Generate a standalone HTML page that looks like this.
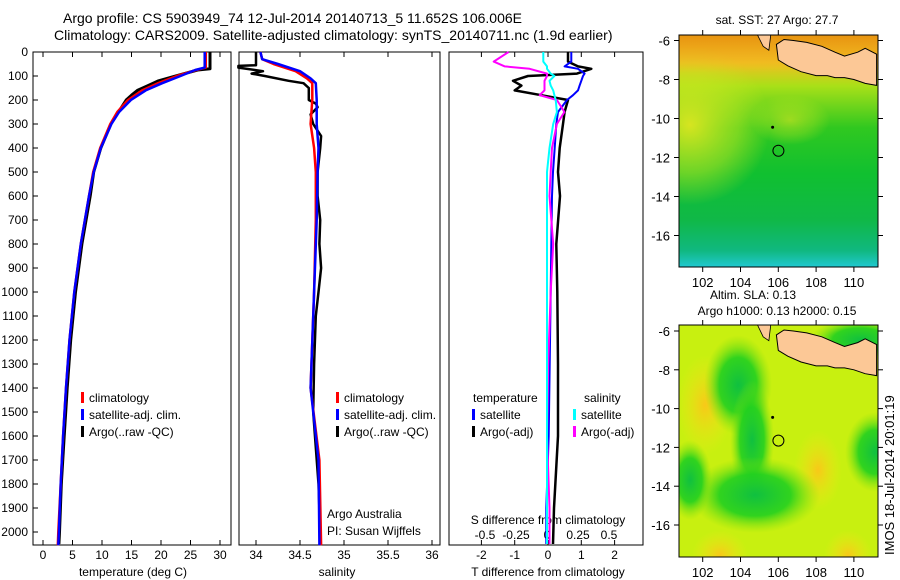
<!DOCTYPE html>
<html><head><meta charset="utf-8">
<style>
html,body{margin:0;padding:0;background:#fff;}
svg{display:block;font-family:"Liberation Sans",sans-serif;}
text{font-size:12px;fill:#000;}
</style></head>
<body>
<svg id="fig" width="900" height="580" viewBox="0 0 900 580" xmlns="http://www.w3.org/2000/svg">
<defs>
 <linearGradient id="sstg" x1="0" y1="0" x2="0" y2="1">
  <stop offset="0" stop-color="#e8a010"/>
  <stop offset="0.12" stop-color="#f0c020"/>
  <stop offset="0.22" stop-color="#a8e018"/>
  <stop offset="0.4" stop-color="#30c820"/>
  <stop offset="0.6" stop-color="#10c030"/>
  <stop offset="0.8" stop-color="#10b848"/>
  <stop offset="0.93" stop-color="#10b880"/>
  <stop offset="1" stop-color="#20c8d0"/>
 </linearGradient>
 <linearGradient id="topo" x1="0" y1="0" x2="0" y2="1">
  <stop offset="0" stop-color="#e89010" stop-opacity="0.8"/>
  <stop offset="0.6" stop-color="#f0b020" stop-opacity="0.6"/>
  <stop offset="1" stop-color="#f0c020" stop-opacity="0"/>
 </linearGradient>
 <radialGradient id="yl"><stop offset="0" stop-color="#e8e820" stop-opacity="0.9"/><stop offset="0.6" stop-color="#c8e820" stop-opacity="0.5"/><stop offset="1" stop-color="#c8e820" stop-opacity="0"/></radialGradient>
 <radialGradient id="g1"><stop offset="0" stop-color="#10c040"/><stop offset="0.55" stop-color="#20d020" stop-opacity="0.9"/><stop offset="1" stop-color="#80e010" stop-opacity="0"/></radialGradient>
 <radialGradient id="o1"><stop offset="0" stop-color="#f8c818"/><stop offset="1" stop-color="#f0e818" stop-opacity="0"/></radialGradient>
 <clipPath id="c1"><rect x="679" y="35" width="199" height="232"/></clipPath>
 <clipPath id="c2"><rect x="679" y="325" width="199" height="232"/></clipPath>
</defs>
<text x="63" y="23" style="font-size:14px">Argo profile: CS 5903949_74 12-Jul-2014 20140713_5 11.652S 106.006E</text>
<text x="54" y="40" style="font-size:14px">Climatology: CARS2009. Satellite-adjusted climatology: synTS_20140711.nc (1.9d earlier)</text>
<g id="panels"></g>
<g id="maps"></g>
<text transform="translate(894,555) rotate(-90)" style="font-size:13px">IMOS 18-Jul-2014 20:01:19</text>
</svg>
<script>
// ---------- data ----------
const depthTicks = [0,100,200,300,400,500,600,700,800,900,1000,1100,1200,1300,1400,1500,1600,1700,1800,1900,2000];
const tempTicks = [0,5,10,15,20,25,30];
const salTicks = [34,34.5,35,35.5,36];
const salTickLabels = ["34","34.5","35","35.5","36"];
const tdTicks = [-2,-1,0,1,2];
const sdTicks = [-0.5,-0.25,0,0.25,0.5];
const sdTickLabels = ["-0.5","-0.25","0","0.25","0.5"];

const climDepth = [0,65,75,100,130,160,200,250,300,400,500,600,800,1000,1200,1400,1600,1800,2000,2055];
const climTemp  = [27.6,27.6,26.0,22.7,19.5,16.8,14.4,12.6,11.4,9.7,8.5,7.8,6.4,5.3,4.5,3.9,3.4,3.0,2.6,2.5];
const satTemp   = [27.4,27.4,25.8,23.3,20.2,17.4,14.9,12.9,11.6,9.8,8.6,7.8,6.4,5.3,4.5,3.9,3.4,3.0,2.7,2.6];
const argoDepth = [0,70,75,100,120,140,160,180,200,250,300,400,500,600,800,1000,1200,1400,1600,1800,2000,2050];
const argoTemp  = [28.3,28.3,26.2,22.5,19.6,17.8,16.0,15.0,14.1,12.8,11.5,9.8,8.6,8.0,6.6,5.5,4.7,4.1,3.6,3.1,2.8,2.7];

const salDepth = [0,30,50,80,110,130,200,300,400,500,700,1000,1400,1700,2055];
const climSal  = [34.05,34.07,34.2,34.45,34.58,34.64,34.64,34.62,34.66,34.68,34.68,34.66,34.62,34.72,34.74];
const satSal   = [34.05,34.07,34.25,34.5,34.62,34.68,34.69,34.69,34.71,34.70,34.69,34.66,34.62,34.71,34.72];
const argoSalDepth = [0,55,58,65,80,90,100,120,130,150,200,215,230,260,300,350,400,500,600,700,800,900,1000,1100,1300,1500,1800,2000,2050];
const argoSal  = [34.0,34.0,33.8,33.8,34.08,33.95,34.1,34.37,34.54,34.6,34.6,34.68,34.7,34.62,34.65,34.74,34.73,34.7,34.7,34.73,34.72,34.74,34.71,34.68,34.66,34.65,34.71,34.73,34.73];

const dDepth = [0,40,60,70,90,100,120,140,160,180,200,250,300,400,500,600,800,1000,1300,1600,1900,2050];
const satTdiff  = [0.7,0.7,0.5,0.9,1.1,1.05,1.0,0.95,0.9,0.75,0.57,0.3,0.25,0.2,0.15,0.12,0.1,0.08,0.05,0.02,-0.05,-0.05];
const argoTdiff = [0.6,0.6,0.9,1.3,0.87,-0.6,-1.05,-0.8,-1.0,-0.2,0.6,0.5,0.45,0.35,0.3,0.36,0.25,0.28,0.3,0.3,0.18,0.15];
const satSdiff  = [-0.03,-0.03,0.0,0.0,0.03,0.06,0.02,0.03,0.05,0.06,0.07,0.08,0.05,0.02,0.0,0.0,0.0,0.0,0.0,0.0,0.0,0.0];
const argoSdiff = [-0.31,-0.43,-0.34,-0.14,0.0,0.0,-0.02,-0.02,-0.02,-0.06,0.08,0.14,0.08,0.04,0.03,0.02,0.05,0.03,0.01,0.0,0.02,0.02];

const mapXTicks = [102,104,106,108,110];
const mapYTicks = [-6,-8,-10,-12,-14,-16];
const floatLon = [106.006], floatLat = [-11.652];
const javaLon = [105.9,106.0,106.5,107.2,108.0,108.6,109.0,109.5,110.0,110.6,111.2,111.2,110.6,110.2,109.5,109.0,108.3,107.5,106.8,106.3];
const javaLat = [-6.2,-7.0,-7.3,-7.6,-7.8,-7.8,-7.9,-7.9,-8.0,-8.2,-8.3,-6.7,-6.4,-6.6,-6.8,-6.6,-6.3,-6.1,-6.0,-5.95];

// ---------- helpers ----------
const NS = "http://www.w3.org/2000/svg";
function mk(tag, attrs, parent){const e=document.createElementNS(NS,tag);for(const k in attrs)e.setAttribute(k,attrs[k]);parent.appendChild(e);return e;}
const yTop=52, yPer=0.24, yBot=545;
const yD = d => yTop + d*yPer;
const panelsG = document.getElementById('panels');

function stepPath(xs, depths, xf){
  let s="";
  for(let i=0;i<depths.length;i++){
    const x=xf(xs[i]).toFixed(1), y=yD(depths[i]).toFixed(1);
    s += (i? "L":"M")+x+","+y;
  }
  return s;
}
function panelFrame(name,x0,x1){
  const r = mk('rect',{x:x0,y:yTop,width:x1-x0,height:yBot-yTop,fill:'none',stroke:'#000','stroke-width':1},panelsG);
  
  
}
function xTicks(name, ticks, labels, xf, ly){
  const g=mk('g',{},panelsG);
  
  
  ticks.forEach((t,i)=>{
    const x=xf(t);
    mk('line',{x1:x,x2:x,y1:yBot,y2:yBot-5,stroke:'#000'},g);
    mk('line',{x1:x,x2:x,y1:yTop,y2:yTop+5,stroke:'#000'},g);
    const tx=mk('text',{x:x,y:ly,'text-anchor':'middle'},g); tx.textContent=labels[i];
  });
}
function series(name, xs, depths, xf, color, w){
  const p = mk('path',{d:stepPath(xs,depths,xf),fill:'none',stroke:color,'stroke-width':w,'stroke-linejoin':'round'},panelsG);
  
  
}
function legend(name, x, y, items){
  const g=mk('g',{},panelsG);
  
  
  items.forEach((it,i)=>{
    const yy=y+i*17;
    if(it[1]) mk('rect',{x:x,y:yy-10,width:3,height:11,fill:it[1]},g);
    const t=mk('text',{x:x+(it[1]?8:0),y:yy},g); t.textContent=it[0];
  });
}

// ---------- panel 1: temperature ----------
const xT = v => 43 + v*5.9;
panelFrame('temperature-panel',33,231);
const yax=mk('g',{},panelsG);


depthTicks.forEach(d=>{
  const y=yD(d);
  mk('line',{x1:33,x2:38,y1:y,y2:y,stroke:'#000'},yax);
  const t=mk('text',{x:28,y:y+4,'text-anchor':'end'},yax); t.textContent=d;
});
xTicks('temperature-x-axis', tempTicks, tempTicks.map(String), xT, 559);
const tl=mk('text',{x:133,y:576,'text-anchor':'middle'},panelsG); tl.textContent='temperature (deg C)';
 
series('argo-temperature-line', argoTemp, argoDepth, xT, '#000', 3);
series('climatology-temperature-line', climTemp, climDepth, xT, '#f00', 2.5);
series('satellite-temperature-line', satTemp, climDepth, xT, '#00f', 2.5);
legend('temperature-legend', 81, 402, [['climatology','#f00'],['satellite-adj. clim.','#00f'],['Argo(..raw -QC)','#000']]);

// ---------- panel 2: salinity ----------
const xS = v => 256 + (v-34)*88;
panelFrame('salinity-panel',239,440);
xTicks('salinity-x-axis', salTicks, salTickLabels, xS, 559);
const sl=mk('text',{x:337,y:576,'text-anchor':'middle'},panelsG); sl.textContent='salinity';
 
series('argo-salinity-line', argoSal, argoSalDepth, xS, '#000', 2.5);
series('climatology-salinity-line', climSal, salDepth, xS, '#f00', 2.5);
series('satellite-salinity-line', satSal, salDepth, xS, '#00f', 2.5);
legend('salinity-legend', 336, 402, [['climatology','#f00'],['satellite-adj. clim.','#00f'],['Argo(..raw -QC)','#000']]);
legend('argo-credit', 327, 518, [['Argo Australia',null],['PI: Susan Wijffels',null]]);

// ---------- panel 3: differences ----------
const xTd = v => 548 + v*33.3;
const xSd = v => 547 + v*124;
panelFrame('difference-panel',449,643);
xTicks('t-difference-x-axis', tdTicks, tdTicks.map(String), xTd, 559);
const dl=mk('text',{x:548,y:576,'text-anchor':'middle'},panelsG); dl.textContent='T difference from climatology';
 
const sdl=mk('text',{x:548,y:524,'text-anchor':'middle'},panelsG); sdl.textContent='S difference from climatology';
 
const sdg=mk('g',{},panelsG);
 
sdTicks.forEach((t,i)=>{const tx=mk('text',{x:xSd(t),y:539,'text-anchor':'middle'},sdg); tx.textContent=sdTickLabels[i];});
series('argo-t-difference-line', argoTdiff, dDepth, xTd, '#000', 2.5);
series('satellite-t-difference-line', satTdiff, dDepth, xTd, '#00f', 2);
series('argo-s-difference-line', argoSdiff, dDepth, xSd, '#f0f', 2);
series('satellite-s-difference-line', satSdiff, dDepth, xSd, '#0ff', 2);
legend('t-difference-legend', 473, 402, [['temperature',null]]);
legend('t-difference-legend-items', 472, 419, [['satellite','#00f'],['Argo(-adj)','#000']]);
legend('s-difference-legend', 584, 402, [['salinity',null]]);
legend('s-difference-legend-items', 573, 419, [['satellite','#0ff'],['Argo(-adj)','#f0f']]);

// ---------- maps ----------
const mapsG=document.getElementById('maps');
function drawMap(name, y0, y6, per, clip, bgFn){
  const g=mk('g',{},mapsG);
  
  
  const mx = lon => 702.7 + (lon-102)*18.9;
  const my = lat => y6 + (-6-lat)*per;
  const inner=mk('g',{'clip-path':'url(#'+clip+')'},g);
  bgFn(inner, y0, mx, my);
  const pts = javaLon.map((l,i)=>mx(l).toFixed(1)+','+my(javaLat[i]).toFixed(1)).join(' ');
  const land=mk('polygon',{points:pts,fill:'#fcc896',stroke:'#000','stroke-width':1},inner);
  
  
  mk('polygon',{points:[mx(104.9),y0,mx(105.6),y0,mx(105.5),my(-6.5),mx(105.2),my(-6.3)].join(' '),fill:'#fcc896',stroke:'#000','stroke-width':0.8},inner);
  mk('circle',{cx:mx(105.7),cy:my(-10.45),r:1.5,fill:'#000'},inner);
  const c=mk('circle',{cx:mx(floatLon[0]),cy:my(floatLat[0]),r:5.5,fill:'none',stroke:'#000','stroke-width':1},g);
  
  
  mk('rect',{x:679,y:y0,width:199,height:232,fill:'none',stroke:'#000'},g);
  mapXTicks.forEach(t=>{
    const x=mx(t);
    mk('line',{x1:x,x2:x,y1:y0,y2:y0-5,stroke:'#000'},g);
    mk('line',{x1:x,x2:x,y1:y0+232,y2:y0+237,stroke:'#000'},g);
    const tx=mk('text',{x:x,y:y0+252,'text-anchor':'middle',style:'font-size:13px'},g); tx.textContent=t;
  });
  mapYTicks.forEach(t=>{
    const y=my(t);
    mk('line',{x1:679,x2:674,y1:y,y2:y,stroke:'#000'},g);
    mk('line',{x1:878,x2:883,y1:y,y2:y,stroke:'#000'},g);
    const tx=mk('text',{x:670,y:y+5,'text-anchor':'end',style:'font-size:13px'},g); tx.textContent=t;
  });
}
drawMap('sst-map', 35, 40.5, 19.5, 'c1', (g,y0)=>{
  mk('rect',{x:679,y:y0,width:199,height:232,fill:'url(#sstg)'},g);
  mk('ellipse',{cx:690,cy:125,rx:80,ry:80,fill:'url(#yl)'},g);
  mk('ellipse',{cx:790,cy:120,rx:40,ry:25,fill:'url(#yl)',opacity:0.6},g);
  mk('rect',{x:679,y:y0,width:199,height:38,fill:'url(#topo)'},g);
});
drawMap('sla-map', 325, 331, 19.4, 'c2', (g,y0)=>{
  mk('rect',{x:679,y:y0,width:199,height:232,fill:'#c8f010'},g);
  mk('ellipse',{cx:860,cy:340,rx:50,ry:22,fill:'url(#g1)'},g);
  mk('ellipse',{cx:705,cy:405,rx:28,ry:50,fill:'url(#o1)'},g);
  mk('ellipse',{cx:818,cy:470,rx:24,ry:40,fill:'url(#o1)'},g);
  mk('ellipse',{cx:720,cy:555,rx:28,ry:25,fill:'url(#o1)'},g);
  mk('ellipse',{cx:848,cy:555,rx:24,ry:25,fill:'url(#o1)'},g);
  mk('ellipse',{cx:738,cy:385,rx:34,ry:50,fill:'url(#g1)'},g);
  mk('ellipse',{cx:752,cy:440,rx:22,ry:60,fill:'url(#g1)'},g);
  mk('ellipse',{cx:755,cy:495,rx:65,ry:38,fill:'url(#g1)'},g);
  mk('ellipse',{cx:690,cy:480,rx:22,ry:40,fill:'url(#g1)'},g);
  mk('ellipse',{cx:875,cy:452,rx:30,ry:40,fill:'url(#g1)'},g);
});
const mt=[['sst-map-title','sat. SST: 27 Argo: 27.7',777,24],['sla-map-title','Altim. SLA: 0.13',753,299],['sla-map-subtitle','Argo h1000: 0.13 h2000: 0.15',777,315]];
mt.forEach(m=>{
  const t=mk('text',{x:m[2],y:m[3],'text-anchor':'middle'},mapsG); t.textContent=m[1];
  
  
});
</script>
</body></html>
